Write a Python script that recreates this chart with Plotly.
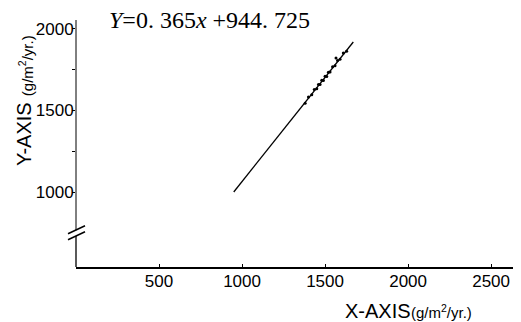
import plotly.graph_objects as go

# Regression line drawn in the figure (endpoints)
line_x = [950, 1670]
line_y = [1000, 1920]

# Dense cluster of observation points along the line
pts_x = [1380, 1400, 1420, 1435, 1450, 1460, 1470, 1480, 1490, 1500,
         1510, 1520, 1530, 1545, 1560, 1566, 1575, 1590, 1610, 1630]
pts_y = [1545, 1582, 1596, 1628, 1633, 1660, 1659, 1685, 1684, 1710,
         1709, 1735, 1736, 1768, 1774, 1822, 1806, 1815, 1852, 1864]

x_ticks = [500, 1000, 1500, 2000, 2500]
x_ticklabels = ["500", "1000", "1500", "2000", "2500"]
y_ticks = [1000, 1250, 1500, 1750, 2000]
y_ticklabels = ["1000", "", "1500", "", "2000"]

equation = "<i>Y</i>=0. 365<i>x</i> +944. 725"
x_title = "X-AXIS"
y_title = "Y-AXIS"
unit_text = "(g/m<sup>2</sup>/yr.)"

SANS = "Liberation Sans Narrow, Arial Narrow, Liberation Sans, sans-serif"
SERIF = "Liberation Serif, Times New Roman, serif"

fig = go.Figure()
fig.add_trace(go.Scatter(x=line_x, y=line_y, mode="lines",
                         line=dict(color="black", width=1.3), showlegend=False,
                         hoverinfo="skip"))
fig.add_trace(go.Scatter(x=pts_x, y=pts_y, mode="markers",
                         marker=dict(color="black", size=3), showlegend=False))

Y_BREAK = 750
# y axis line segments, broken
fig.add_shape(type="line", xref="paper", yref="y", x0=0, x1=0, y0=540, y1=Y_BREAK - 20,
              line=dict(color="black", width=1.3))
fig.add_shape(type="line", xref="paper", yref="y", x0=0, x1=0, y0=Y_BREAK + 15, y1=2055,
              line=dict(color="black", width=1))
# break marks
for off in (-3, 3):
    fig.add_shape(type="line", xref="paper", yref="y", xsizemode="pixel", ysizemode="pixel",
                  xanchor=0, yanchor=Y_BREAK, x0=-8, x1=9, y0=off - 4, y1=off + 4,
                  line=dict(color="black", width=1.5))

# page body has an 8px margin: figure is offset by 8px, sizes compensate
fig.update_layout(
    width=513, height=314,
    margin=dict(l=68, r=0, t=12, b=55),
    paper_bgcolor="white", plot_bgcolor="white",
    font=dict(family=SANS, size=17, color="black"),
    xaxis=dict(range=[0, 2680], showgrid=False, zeroline=False,
               showline=True, linecolor="black", linewidth=2,
               tickvals=x_ticks, ticktext=x_ticklabels,
               ticks="inside", ticklen=3, tickcolor="black",
               ticklabelstandoff=-2,
               tickfont=dict(family=SANS, size=17)),
    yaxis=dict(range=[540, 2055], showgrid=False, zeroline=False,
               showline=False,
               tickvals=y_ticks, ticktext=y_ticklabels,
               ticks="outside", ticklen=3, tickcolor="black",
               ticklabelstandoff=-5,
               tickfont=dict(family=SANS, size=17)),
    annotations=[
        dict(text=equation, xref="paper", yref="paper", x=0.07, y=1.0,
             xanchor="left", yanchor="middle", showarrow=False,
             font=dict(family=SERIF, size=24, color="black")),
        dict(text=x_title, xref="paper", yref="paper", x=0.600, y=-0.18,
             xanchor="left", yanchor="middle", showarrow=False,
             font=dict(family=SANS, size=20, color="black")),
        dict(text=unit_text, xref="paper", yref="paper", x=0.748, y=-0.18,
             xanchor="left", yanchor="middle", showarrow=False,
             font=dict(family=SANS, size=15, color="black")),
        dict(text=y_title, xref="paper", yref="paper", x=-0.118, y=0.540,
             xanchor="center", yanchor="middle", showarrow=False, textangle=-90,
             font=dict(family=SANS, size=20, color="black")),
        dict(text=unit_text, xref="paper", yref="paper", x=-0.113, y=0.816,
             xanchor="center", yanchor="middle", showarrow=False, textangle=-90,
             font=dict(family=SANS, size=15, color="black")),
    ],
)

fig.write_html("out.html")
